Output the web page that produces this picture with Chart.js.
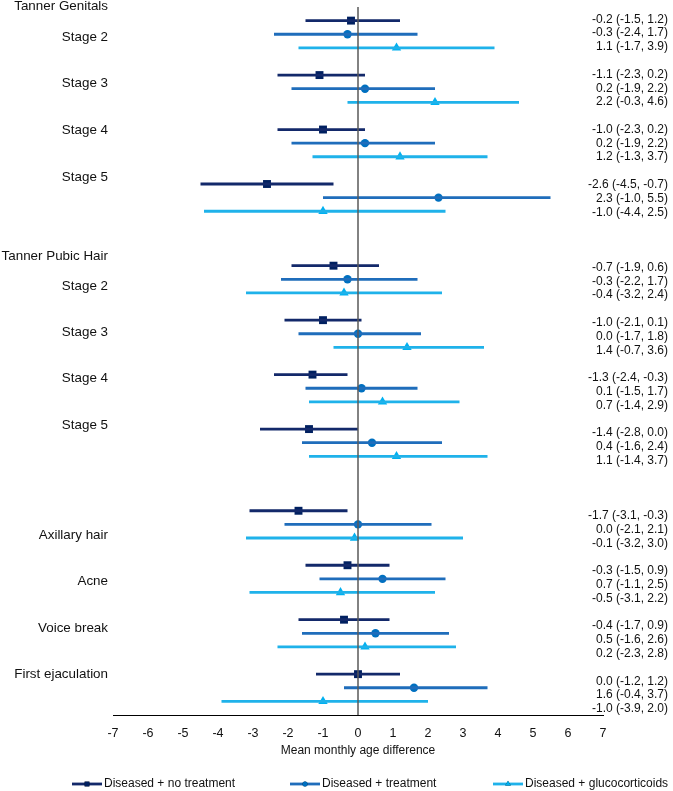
<!DOCTYPE html>
<html>
<head>
<meta charset="utf-8">
<style>
  html, body { margin: 0; padding: 0; background: #fff; }
  #wrap { width: 673px; height: 791px; }
</style>
<script src="https://cdn.jsdelivr.net/npm/chart.js@4.4.1/dist/chart.umd.min.js"></script>
</head>
<body>
<div id="wrap"><canvas id="chart" width="673" height="791"></canvas></div>
<script>
// rows: 4 genital stages, 4 pubic hair stages, then 4 other signs
const rowLabels = ["Stage 2", "Stage 3", "Stage 4", "Stage 5",
  "Stage 2", "Stage 3", "Stage 4", "Stage 5",
  "Axillary hair", "Acne", "Voice break", "First ejaculation"];
const sectionTitles = ["Tanner Genitals", "Tanner Pubic Hair"];
const seriesNames = ["Diseased + no treatment", "Diseased + treatment", "Diseased + glucocorticoids"];

const noTreatMean = [-0.2, -1.1, -1.0, -2.6, -0.7, -1.0, -1.3, -1.4, -1.7, -0.3, -0.4, 0.0];
const noTreatLow = [-1.5, -2.3, -2.3, -4.5, -1.9, -2.1, -2.4, -2.8, -3.1, -1.5, -1.7, -1.2];
const noTreatHigh = [1.2, 0.2, 0.2, -0.7, 0.6, 0.1, -0.3, 0.0, -0.3, 0.9, 0.9, 1.2];

const treatMean = [-0.3, 0.2, 0.2, 2.3, -0.3, 0.0, 0.1, 0.4, 0.0, 0.7, 0.5, 1.6];
const treatLow = [-2.4, -1.9, -1.9, -1.0, -2.2, -1.7, -1.5, -1.6, -2.1, -1.1, -1.6, -0.4];
const treatHigh = [1.7, 2.2, 2.2, 5.5, 1.7, 1.8, 1.7, 2.4, 2.1, 2.5, 2.6, 3.7];

const glucoMean = [1.1, 2.2, 1.2, -1.0, -0.4, 1.4, 0.7, 1.1, -0.1, -0.5, 0.2, -1.0];
const glucoLow = [-1.7, -0.3, -1.3, -4.4, -3.2, -0.7, -1.4, -1.4, -3.2, -3.1, -2.3, -3.9];
const glucoHigh = [3.9, 4.6, 3.7, 2.5, 2.4, 3.6, 2.9, 3.7, 3.0, 2.2, 2.8, 2.0];

const xMin = -7;
const xMax = 7;

const FONT = "'Liberation Sans', Arial, sans-serif";
const lineColors = ["#13296a", "#1f6dbb", "#1fb2ea"];
const markColors = ["#002060", "#0070c0", "#00b0f0"];
const markStyles = ["rect", "circle", "triangle"];
const markRadius = [5.6, 4.2, 5.4];

const series = [
  { mean: noTreatMean, low: noTreatLow, high: noTreatHigh },
  { mean: treatMean, low: treatLow, high: treatHigh },
  { mean: glucoMean, low: glucoLow, high: glucoHigh },
];

// vertical slot of the first row of each item
function rowSlot(i) {
  if (i < 4) return 4 * i;
  if (i < 8) return 18 + 4 * (i - 4);
  return 36 + 4 * (i - 8);
}

const datasets = [];
datasets.push({
  data: [{ x: 0, y: -1 }, { x: 0, y: 51 }],
  showLine: true,
  borderColor: "#5a5a5a",
  borderWidth: 1.5,
  pointRadius: 0,
});
series.forEach((s, j) => {
  const ci = [];
  s.mean.forEach((m, i) => {
    const y = rowSlot(i) + j;
    ci.push({ x: s.low[i], y: y }, { x: s.high[i], y: y }, { x: 0, y: null });
  });
  datasets.push({
    data: ci,
    showLine: true,
    borderColor: lineColors[j],
    borderWidth: 2.8,
    pointRadius: 0,
    spanGaps: false,
  });
});
series.forEach((s, j) => {
  datasets.push({
    data: s.mean.map((m, i) => ({ x: m, y: rowSlot(i) + j })),
    showLine: false,
    pointStyle: markStyles[j],
    pointRadius: markRadius[j],
    backgroundColor: markColors[j],
    borderColor: markColors[j],
    borderWidth: 0,
  });
});

function fmt(v) {
  return v.toFixed(1);
}

const textPlugin = {
  id: "texts",
  afterDraw(chart) {
    const ctx = chart.ctx;
    const ys = chart.scales.y;
    ctx.save();
    ctx.fillStyle = "#111";
    ctx.textBaseline = "middle";

    // left hand labels
    ctx.textAlign = "right";
    ctx.font = "13.4px " + FONT;
    ctx.fillText(sectionTitles[0], 108, ys.getPixelForValue(-1.05));
    ctx.fillText(sectionTitles[1], 108, ys.getPixelForValue(17.3));
    rowLabels.forEach((lab, i) => {
      let slot;
      if (i < 4) slot = 1.2 + 3.43 * i;
      else if (i < 8) slot = 19.5 + 3.4 * (i - 4);
      else slot = 37.8 + 3.4 * (i - 8);
      ctx.fillText(lab, 108, ys.getPixelForValue(slot));
    });

    // right hand estimates
    ctx.font = "12px " + FONT;
    series.forEach((s, j) => {
      s.mean.forEach((m, i) => {
        const r = rowSlot(i) + j;
        const txt = fmt(m) + " (" + fmt(s.low[i]) + ", " + fmt(s.high[i]) + ")";
        ctx.fillText(txt, 668, ys.getPixelForValue(r * 1.013 - 0.1));
      });
    });

    // legend
    const lx = [72, 290, 493];
    const ly = 784;
    ctx.textAlign = "left";
    seriesNames.forEach((name, j) => {
      ctx.strokeStyle = lineColors[j];
      ctx.lineWidth = 2.8;
      ctx.beginPath();
      ctx.moveTo(lx[j], ly);
      ctx.lineTo(lx[j] + 30, ly);
      ctx.stroke();
      Chart.helpers.drawPoint(ctx, {
        pointStyle: markStyles[j],
        radius: markRadius[j] * 0.6,
        borderWidth: 0,
        rotation: 0,
      }, lx[j] + 15, ly);
      ctx.fillStyle = markColors[j];
      ctx.fill();
      ctx.fillStyle = "#111";
      ctx.fillText(name, lx[j] + 32, ly);
    });
    ctx.restore();
  },
};

new Chart(document.getElementById("chart"), {
  type: "scatter",
  data: { datasets: datasets },
  options: {
    responsive: false,
    animation: false,
    layout: { padding: { left: 113, right: 70, top: 7, bottom: 29 } },
    plugins: { legend: { display: false }, tooltip: { enabled: false } },
    scales: {
      x: {
        type: "linear",
        min: xMin,
        max: xMax,
        ticks: { stepSize: 1, color: "#111", font: { family: FONT, size: 12.5 }, padding: 3 },
        grid: { display: false },
        border: { display: true, color: "#000", width: 1 },
        title: {
          display: true,
          text: "Mean monthly age difference",
          color: "#111",
          font: { family: FONT, size: 12 },
          padding: { top: 4, bottom: 4 },
        },
        afterFit(scale) {
          scale.height = 47;
        },
      },
      y: { type: "linear", min: -1, max: 51, reverse: true, display: false },
    },
  },
  plugins: [textPlugin],
});
</script>
</body>
</html>
